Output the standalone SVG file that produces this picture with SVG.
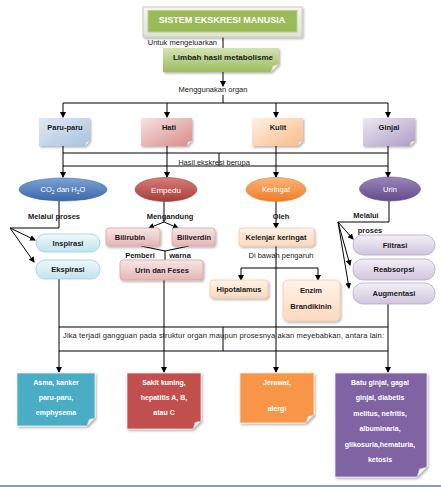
<svg xmlns="http://www.w3.org/2000/svg" width="441" height="487" viewBox="0 0 441 487">
<style>
text{font-family:"Liberation Sans",Arial,sans-serif;fill:#1a1a1a}
.lb{font-size:7.5px;text-anchor:middle}
.bx{font-size:7.5px;font-weight:bold;text-anchor:middle}
.sm{font-size:7px;font-weight:bold;text-anchor:middle}
.wh{fill:#ffffff}
.ln{stroke:#000;stroke-width:1;fill:none}
.ar{stroke:#000;stroke-width:1;fill:none;marker-end:url(#ah)}
.fold{fill:#f4f4f4;stroke:#c8c8c8;stroke-width:0.5}
</style>
<defs>
<marker id="ah" markerWidth="6" markerHeight="6" refX="5" refY="3" orient="auto" markerUnits="userSpaceOnUse">
<path d="M0,0 L6,3 L0,6 Z" fill="#000"/>
</marker>
<filter id="sh" x="-10%" y="-10%" width="130%" height="140%">
<feDropShadow dx="1.2" dy="1.5" stdDeviation="0.9" flood-color="#000" flood-opacity="0.3"/>
</filter>
<linearGradient id="gLim" x1="0" y1="0" x2="0" y2="1"><stop offset="0" stop-color="#d3e3b3"/><stop offset="1" stop-color="#9cbd5d"/></linearGradient>
<linearGradient id="gFrame" x1="0" y1="0" x2="0" y2="1"><stop offset="0" stop-color="#f4f6ef"/><stop offset="1" stop-color="#dfe3d6"/></linearGradient>
<linearGradient id="gParu" x1="0" y1="0" x2="1" y2="1"><stop offset="0" stop-color="#e2eaf4"/><stop offset="1" stop-color="#a9c1df"/></linearGradient>
<linearGradient id="gHati" x1="0" y1="0" x2="1" y2="1"><stop offset="0" stop-color="#f5e2e1"/><stop offset="1" stop-color="#d88c8a"/></linearGradient>
<linearGradient id="gKulit" x1="0" y1="0" x2="1" y2="1"><stop offset="0" stop-color="#fef0e4"/><stop offset="1" stop-color="#f9bb87"/></linearGradient>
<linearGradient id="gGinjal" x1="0" y1="0" x2="1" y2="1"><stop offset="0" stop-color="#ece8f1"/><stop offset="1" stop-color="#ae9dc5"/></linearGradient>
<linearGradient id="eBlue" x1="0" y1="0" x2="0" y2="1"><stop offset="0" stop-color="#7aa3d6"/><stop offset="1" stop-color="#3a67a6"/></linearGradient>
<linearGradient id="eRed" x1="0" y1="0" x2="0" y2="1"><stop offset="0" stop-color="#d87c79"/><stop offset="1" stop-color="#a53d3a"/></linearGradient>
<linearGradient id="eOra" x1="0" y1="0" x2="0" y2="1"><stop offset="0" stop-color="#fbb47c"/><stop offset="1" stop-color="#ec7d25"/></linearGradient>
<linearGradient id="ePur" x1="0" y1="0" x2="0" y2="1"><stop offset="0" stop-color="#9c86bd"/><stop offset="1" stop-color="#624c87"/></linearGradient>
<linearGradient id="pCyan" x1="0" y1="0" x2="0" y2="1"><stop offset="0" stop-color="#eef8fb"/><stop offset="1" stop-color="#c2e3ed"/></linearGradient>
<linearGradient id="pPink" x1="0" y1="0" x2="0" y2="1"><stop offset="0" stop-color="#f7e6e6"/><stop offset="1" stop-color="#e5b5b4"/></linearGradient>
<linearGradient id="pPeach" x1="0" y1="0" x2="0" y2="1"><stop offset="0" stop-color="#fff3ea"/><stop offset="1" stop-color="#fcd9bd"/></linearGradient>
<linearGradient id="pLav" x1="0" y1="0" x2="0" y2="1"><stop offset="0" stop-color="#f3f0f7"/><stop offset="1" stop-color="#cfc5de"/></linearGradient>
</defs>

<rect width="441" height="487" fill="#ffffff"/>

<g id="connectors">
<line class="ln" x1="223" y1="37" x2="223" y2="48"/>
<line class="ar" x1="223" y1="72" x2="223" y2="86"/>
<line class="ln" x1="223" y1="95" x2="223" y2="103"/>
<line class="ln" x1="63" y1="103" x2="388" y2="103"/>
<line class="ar" x1="63" y1="103" x2="63" y2="117"/>
<line class="ar" x1="167" y1="103" x2="167" y2="117"/>
<line class="ar" x1="276" y1="103" x2="276" y2="117"/>
<line class="ar" x1="388" y1="103" x2="388" y2="117"/>
<line class="ln" x1="63" y1="153" x2="388" y2="153"/>
<line class="ln" x1="63" y1="166" x2="388" y2="166"/>
<line class="ln" x1="219" y1="153" x2="219" y2="166"/>
<line class="ar" x1="63" y1="146" x2="63" y2="177"/>
<line class="ar" x1="167" y1="146" x2="167" y2="177"/>
<line class="ar" x1="276" y1="146" x2="276" y2="177"/>
<line class="ar" x1="388" y1="146" x2="388" y2="177"/>
<!-- CO2 -->
<polyline class="ln" points="59,201 59,228 10,228"/>
<line class="ar" x1="10" y1="228" x2="35" y2="240"/>
<line class="ar" x1="10" y1="228" x2="34" y2="262"/>
<line class="ar" x1="59" y1="279" x2="59" y2="372"/>
<!-- Empedu -->
<line class="ln" x1="164" y1="201" x2="164" y2="222"/>
<line class="ar" x1="164" y1="222" x2="149" y2="228"/>
<line class="ar" x1="164" y1="222" x2="178" y2="228"/>
<polyline class="ln" points="141,246 165,251 189,246"/>
<line class="ln" x1="165" y1="251" x2="165" y2="260"/>
<line class="ar" x1="164" y1="280" x2="164" y2="372"/>
<!-- Keringat -->
<line class="ar" x1="276" y1="201" x2="276" y2="228"/>
<line class="ar" x1="276" y1="246" x2="276" y2="372"/>
<line class="ln" x1="241" y1="268" x2="318" y2="268"/>
<line class="ar" x1="241" y1="268" x2="241" y2="280"/>
<line class="ar" x1="318" y1="268" x2="318" y2="280"/>
<!-- Urin -->
<polyline class="ln" points="389,201 389,222 338,222"/>
<line class="ar" x1="338" y1="222" x2="353" y2="239"/>
<line class="ar" x1="338" y1="222" x2="350" y2="265"/>
<line class="ar" x1="338" y1="222" x2="349" y2="288"/>
<line class="ar" x1="388" y1="304" x2="388" y2="372"/>
<!-- bottom -->
<line class="ln" x1="59" y1="327" x2="388" y2="327"/>
<line class="ln" x1="59" y1="351" x2="388" y2="351"/>
<line class="ln" x1="223" y1="327" x2="223" y2="351"/>
</g>

<g id="labels">
<text class="lb" x="217" y="44.5" text-anchor="end" style="text-anchor:end">Untuk mengeluarkan</text>
<text class="lb" x="213" y="92">Menggunakan organ</text>
<text class="lb" x="214" y="164.5">Hasil ekskresi berupa</text>
<text class="lb" x="54" y="218.5" style="font-weight:bold">Melalui proses</text>
<text class="lb" x="170" y="218.5" style="font-weight:bold">Mengandung</text>
<text class="lb" x="140" y="257.5" style="font-weight:bold">Pemberi</text>
<text class="lb" x="180" y="257.5" style="font-weight:bold">warna</text>
<text class="lb" x="281" y="218.5" style="font-weight:bold">Oleh</text>
<text class="lb" x="281" y="257.5">Di bawah pengaruh</text>
<text class="lb" x="366" y="218" style="font-weight:bold">Melalui</text>
<text class="lb" x="370" y="233" style="font-weight:bold">proses</text>
<text class="lb" x="223.5" y="337.5" textLength="321" lengthAdjust="spacing">Jika terjadi gangguan pada struktur organ maupun prosesnya akan meyebabkan, antara lain:</text>
</g>

<g id="title">
<rect x="143" y="7" width="159" height="30" fill="url(#gFrame)" stroke="#c9cdc0" stroke-width="1" filter="url(#sh)"/>
<rect x="148" y="10.5" width="149" height="21.5" fill="#9bbb59" stroke="#b9cf8c" stroke-width="1"/>
<text class="bx wh" x="222" y="22.5" style="font-size:9px">SISTEM EKSKRESI MANUSIA</text>
</g>

<g id="limbah">
<path d="M163,48 H279 V64 L271,72 H163 Z" fill="url(#gLim)" filter="url(#sh)"/>
<path class="fold" d="M279,64 L271,72 L273,66 Z" fill="#e4eed2"/>
<text class="bx" x="223" y="59.5" style="font-size:8px">Limbah hasil metabolisme</text>
</g>

<g id="paru">
<path d="M39,118 H90 V141 L85,146 H39 Z" fill="url(#gParu)" filter="url(#sh)"/>
<path class="fold" d="M90,141 L85,146 L86,142 Z"/>
<text class="bx" x="65" y="130">Paru-paru</text>
</g>
<g id="hati">
<path d="M141,118 H192 V141 L187,146 H141 Z" fill="url(#gHati)" filter="url(#sh)"/>
<path class="fold" d="M192,141 L187,146 L188,142 Z"/>
<text class="bx" x="169" y="130">Hati</text>
</g>
<g id="kulit">
<path d="M252,118 H303 V141 L298,146 H252 Z" fill="url(#gKulit)" filter="url(#sh)"/>
<path class="fold" d="M303,141 L298,146 L299,142 Z"/>
<text class="bx" x="278" y="130">Kulit</text>
</g>
<g id="ginjal">
<path d="M363,118 H415 V141 L410,146 H363 Z" fill="url(#gGinjal)" filter="url(#sh)"/>
<path class="fold" d="M415,141 L410,146 L411,142 Z"/>
<text class="bx" x="389" y="130">Ginjal</text>
</g>

<g id="co2">
<ellipse cx="63" cy="189.5" rx="44" ry="11.5" fill="url(#eBlue)" stroke="#3f6ea9" stroke-width="0.6"/>
<text class="lb wh" x="63" y="192">CO<tspan font-size="5" dy="1.5">2</tspan><tspan dy="-1.5"> dan H</tspan><tspan font-size="5" dy="1.5">2</tspan><tspan dy="-1.5">O</tspan></text>
</g>
<g id="empedu">
<ellipse cx="166" cy="189.5" rx="31" ry="12" fill="url(#eRed)" stroke="#a9413e" stroke-width="0.6"/>
<text class="wh" x="166" y="192.5" style="font-size:8px;text-anchor:middle">Empedu</text>
</g>
<g id="keringat">
<ellipse cx="276" cy="189.5" rx="30" ry="12" fill="url(#eOra)" stroke="#e6812f" stroke-width="0.6"/>
<text class="lb wh" x="276" y="192">Keringat</text>
</g>
<g id="urin">
<ellipse cx="390" cy="189" rx="30.5" ry="12" fill="url(#ePur)" stroke="#6a5491" stroke-width="0.6"/>
<text class="lb wh" x="390" y="191.5">Urin</text>
</g>

<g id="inspirasi">
<rect x="36" y="234" width="64" height="18" rx="9" fill="url(#pCyan)" stroke="#9bcfdf" stroke-width="0.8"/>
<text class="bx" x="68" y="245.5">Inspirasi</text>
</g>
<g id="ekspirasi">
<rect x="36" y="260" width="64" height="19" rx="9" fill="url(#pCyan)" stroke="#9bcfdf" stroke-width="0.8"/>
<text class="bx" x="68" y="272">Ekspirasi</text>
</g>

<g id="bilirubin">
<rect x="106" y="228" width="54" height="18" rx="3" fill="url(#pPink)" stroke="#d9a3a2" stroke-width="0.8" filter="url(#sh)"/>
<text class="bx" x="130" y="240">Bilirubin</text>
</g>
<g id="biliverdin">
<rect x="172" y="228" width="43" height="18" rx="3" fill="url(#pPink)" stroke="#d9a3a2" stroke-width="0.8" filter="url(#sh)"/>
<text class="bx" x="194" y="240">Biliverdin</text>
</g>
<g id="urinfeses">
<rect x="120" y="260" width="83" height="20" rx="3" fill="url(#pPink)" stroke="#d9a3a2" stroke-width="0.8" filter="url(#sh)"/>
<text class="bx" x="162" y="272.5">Urin dan Feses</text>
</g>

<g id="kelenjar">
<rect x="239" y="228" width="75" height="18" rx="3" fill="url(#pPeach)" stroke="#f5c9a3" stroke-width="0.8" filter="url(#sh)"/>
<text class="bx" x="276" y="240">Kelenjar keringat</text>
</g>
<g id="hipotalamus">
<rect x="210" y="280" width="58" height="18" rx="3" fill="url(#pPeach)" stroke="#f5c9a3" stroke-width="0.8" filter="url(#sh)"/>
<text class="bx" x="239" y="292">Hipotalamus</text>
</g>
<g id="enzim">
<rect x="283" y="280" width="57" height="41" rx="5" fill="url(#pPeach)" stroke="#f5c9a3" stroke-width="0.8" filter="url(#sh)"/>
<text class="bx" x="311" y="293">Enzim</text>
<text class="bx" x="311" y="309">Brandikinin</text>
</g>

<g id="filtrasi">
<rect x="353" y="235" width="82" height="20" rx="10" fill="url(#pLav)" stroke="#b5a8c9" stroke-width="0.8"/>
<text class="bx" x="395" y="247.5">Filtrasi</text>
</g>
<g id="reabsorpsi">
<rect x="353" y="259" width="82" height="21" rx="10" fill="url(#pLav)" stroke="#b5a8c9" stroke-width="0.8"/>
<text class="bx" x="394" y="272">Reabsorpsi</text>
</g>
<g id="augmentasi">
<rect x="353" y="283" width="82" height="21" rx="10" fill="url(#pLav)" stroke="#b5a8c9" stroke-width="0.8"/>
<text class="bx" x="394" y="296">Augmentasi</text>
</g>

<g id="asma">
<path d="M17,373 H95 V418 L87,426 H17 Z" fill="#4bacc6" stroke="#e6f2f6" stroke-width="0.8" filter="url(#sh)"/>
<path class="fold" d="M95,418 L87,426 L89,419.5 Z"/>
<text class="sm wh" x="56" y="384.5">Asma, kanker</text>
<text class="sm wh" x="56" y="399.5">paru-paru,</text>
<text class="sm wh" x="56" y="414.5">emphysema</text>
</g>
<g id="sakit">
<path d="M127,373 H201 V421 L193,429 H127 Z" fill="#c0504d" stroke="#f4e0e0" stroke-width="0.8" filter="url(#sh)"/>
<path class="fold" d="M201,421 L193,429 L195,422.5 Z"/>
<text class="sm wh" x="164" y="384.5">Sakit kuning,</text>
<text class="sm wh" x="164" y="399.5">hepatitis A, B,</text>
<text class="sm wh" x="164" y="414.5">atau C</text>
</g>
<g id="jerawat">
<path d="M240,373 H314 V415 L306,423 H240 Z" fill="#f79646" stroke="#fde8d6" stroke-width="0.8" filter="url(#sh)"/>
<path class="fold" d="M314,415 L306,423 L308,416.5 Z"/>
<text class="sm wh" x="277" y="384.5">Jerawat,</text>
<text class="sm wh" x="277" y="410.5">alergi</text>
</g>
<g id="batu">
<path d="M335,373 H427 V467 L417,477 H335 Z" fill="#8064a2" stroke="#ece7f2" stroke-width="0.8" filter="url(#sh)"/>
<path class="fold" d="M427,467 L417,477 L419.5,469 Z"/>
<text class="sm wh" x="380" y="384.5">Batu ginjal, gagal</text>
<text class="sm wh" x="380" y="400">ginjal, diabetis</text>
<text class="sm wh" x="380" y="415.5">melitus, nefritis,</text>
<text class="sm wh" x="380" y="431">albuminaria,</text>
<text class="sm wh" x="380" y="446.5">glikosuria,hematuria,</text>
<text class="sm wh" x="380" y="462">ketosis</text>
</g>

<line x1="0" y1="486" x2="441" y2="486" stroke="#5b7fae" stroke-width="1.5"/>
</svg>
